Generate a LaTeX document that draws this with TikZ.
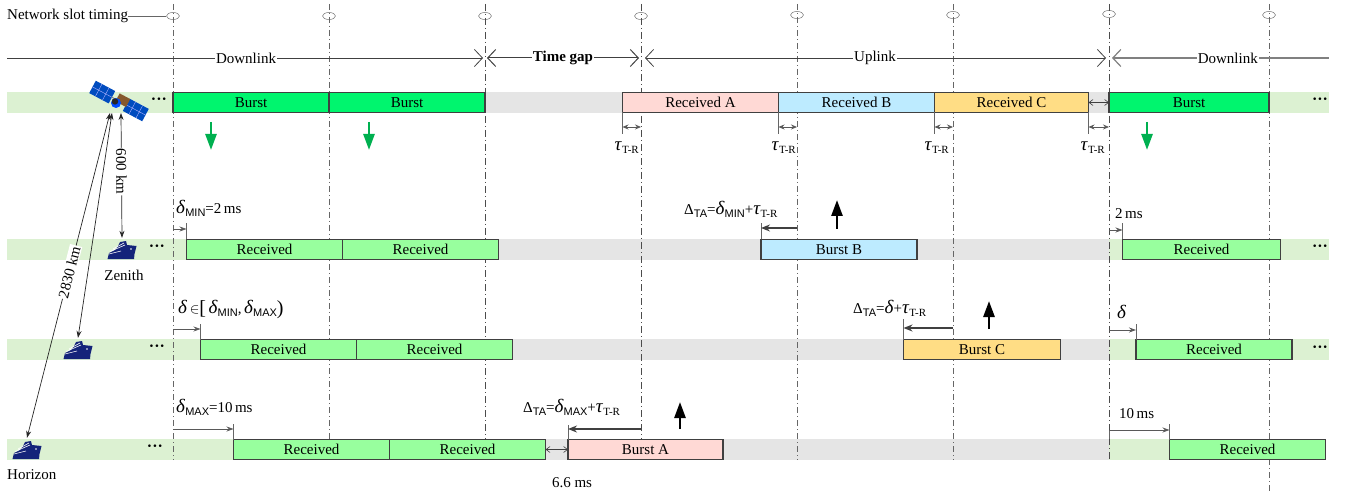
\documentclass[tikz,border=0pt]{standalone}
\usepackage{fontspec}
\usepackage{xcolor}
\usepackage{tikz}
\setmainfont{Liberation Serif}
\newfontfamily\subfont{Liberation Sans}
\definecolor{bandgreen}{RGB}{220, 241, 210}
\definecolor{bandgray}{RGB}{229, 229, 229}
\definecolor{burstgreen}{RGB}{0, 245, 110}
\definecolor{recvgreen}{RGB}{152, 255, 158}
\definecolor{pinkA}{RGB}{255, 217, 213}
\definecolor{blueB}{RGB}{189, 235, 255}
\definecolor{yellowC}{RGB}{255, 221, 133}
\definecolor{arrowgreen}{RGB}{0, 176, 80}
\definecolor{shipblue}{RGB}{20, 36, 122}
\usetikzlibrary{arrows.meta, positioning, calc, shapes.geometric}
\newcommand{\dlt}{{\fontsize{19}{19}\selectfont\textit{δ}}}
\newcommand{\tauv}{{\fontsize{19}{19}\selectfont\textit{τ}}}
\newcommand{\subsf}[1]{\raisebox{-3pt}{\fontsize{11}{11}\subfont #1}}
\newcommand{\subtr}{\raisebox{-3pt}{\fontsize{11}{11}\selectfont T-R}}

\begin{document}
\begin{tikzpicture}[
    x=1pt, y=-1pt,
    every node/.style={font=\fontsize{15}{18}\selectfont},
    barbox/.style={rectangle, draw=black!75, line width=1.1pt, minimum width=156pt, minimum height=20pt, inner sep=0pt, outer sep=0pt},
    burst/.style={barbox, fill=burstgreen, line width=1.5pt},
    recv/.style={barbox, fill=recvgreen},
    note/.style={inner sep=0pt, anchor=west},
    dotrun/.style={inner sep=0pt, font=\fontsize{16}{18}\selectfont\bfseries},
    slot/.style={ellipse, draw=black!55, line width=0.5pt, minimum width=13pt, minimum height=7pt, inner sep=0pt},
    slotline/.style={draw=black!60, line width=0.6pt, dash pattern=on 6pt off 3pt on 1pt off 3pt},
    mainline/.style={draw=black!70, line width=1pt, dash pattern=on 7pt off 3pt on 1pt off 3pt},
    spanline/.style={draw=black!75, line width=0.8pt, -{Straight Barb[length=8pt,width=17pt]}},
    spanlabel/.style={fill=white, inner sep=1pt},
    guide/.style={draw=black!60, line width=0.6pt},
    delayline/.style={draw=black!65, line width=0.8pt, -{Stealth[length=7pt,width=5pt]}},
    advanceline/.style={draw=black!75, line width=1.5pt, -{Stealth[length=9pt,width=7pt]}},
    tauspan/.style={draw=black!65, line width=0.8pt, {Stealth[length=6pt,width=5pt]}-{Stealth[length=6pt,width=5pt]}},
    gapspan/.style={draw=black!75, line width=0.6pt, {Straight Barb[length=4pt,width=6pt]}-{Straight Barb[length=4pt,width=6pt]}},
    rangeline/.style={draw=black!85, line width=0.7pt, {Stealth[length=7pt,width=5pt]}-{Stealth[length=7pt,width=5pt]}},
    greenarrow/.style={draw=arrowgreen, line width=2.6pt, -{Stealth[length=16pt,width=11pt,inset=0pt]}},
    blackarrow/.style={draw=black, line width=2.6pt, -{Stealth[length=16pt,width=11pt,inset=0pt]}},
    shipspot/.style={minimum width=29pt, minimum height=24pt, inner sep=0pt},
    shipicon/.pic={
        \fill[shipblue] (-14.5,9) -- (-13,3) -- (-7,0) -- (-4,-4) -- (-2,-8) -- (4,-9) -- (5,-5) -- (14.5,-4) -- (12.5,4) -- (12,9) -- cycle;
        \draw[white, line width=0.6pt] (-12,1.5) -- (3,-5) (-9,-1) -- (2,-7) (-13,4) -- (-1,1);
        \fill[white] (9,-1) circle (0.8);
    },
    saticon/.pic={
        \begin{scope}[rotate=-28]
            \fill[blue!60!cyan!75!black] (-30,-7) rectangle (-8,7);
            \fill[blue!60!cyan!75!black] (8,-7) rectangle (30,7);
            \draw[white!70!blue, line width=0.4pt] (-23,-7) -- (-23,7) (-15,-7) -- (-15,7) (15,-7) -- (15,7) (23,-7) -- (23,7) (-30,0) -- (-8,0) (8,0) -- (30,0);
            \draw[black!50, line width=1pt] (-8,0) -- (8,0);
        \end{scope}
        \fill[brown!70!black, rotate=-28] (-3,-7) rectangle (9,2);
        \fill[blue!70!cyan] (-3,2) circle (5);
        \fill[black!85] (-4,0.5) circle (3.2);
    }
]
    \useasboundingbox (0,0) rectangle (1348,494);
    % bands behind the timelines
    \fill[bandgreen] (7,92) rectangle (173,113);
    \fill[bandgray] (485,92) rectangle (1109,113);
    \fill[bandgreen] (1269,92) rectangle (1329,113);
    \fill[bandgreen] (7,239) rectangle (186,260);
    \fill[bandgray] (499,239) rectangle (1109,260);
    \fill[bandgreen] (1109,239) rectangle (1329,260);
    \fill[bandgreen] (7,339) rectangle (200,360);
    \fill[bandgray] (513,339) rectangle (1109,360);
    \fill[bandgreen] (1109,339) rectangle (1329,360);
    \fill[bandgreen] (7,439) rectangle (233,460);
    \fill[bandgray] (546,439) rectangle (1109,460);
    \fill[bandgreen] (1109,439) rectangle (1326,460);

    % slot timing
    \node[note] (timing) at (7,16) {Network slot timing};
    \node[slot] (s1) at (173,16) {};
    \node[slot] (s2) at (329,16) {};
    \node[slot] (s3) at (485,16) {};
    \node[slot] (s4) at (641,16) {};
    \node[slot] (s5) at (797,15) {};
    \node[slot] (s6) at (953,15) {};
    \node[slot] (s7) at (1109,14) {};
    \node[slot] (s8) at (1269,15) {};
    \draw[guide] (timing) -- (s1);
    \coordinate (top) at (0,4);
    \coordinate (bot) at (0,460);
    \coordinate (low) at (0,494);
    \draw[slotline] (s1 |- top) -- (s1 |- bot);
    \draw[slotline] (s2 |- top) -- (s2 |- bot);
    \draw[mainline] (s3 |- top) -- (s3 |- bot);
    \draw[mainline] (s4 |- top) -- (s4 |- bot);
    \draw[slotline] (s5 |- top) -- (s5 |- bot);
    \draw[slotline] (s6 |- top) -- (s6 |- bot);
    \draw[mainline] (s7 |- top) -- (s7 |- bot);
    \draw[slotline] (s8 |- top) -- (s8 |- low);

    % link phases
    \coordinate (lnk) at (7,58);
    \coordinate (lnkend) at (1329,58);
    \draw[spanline, shorten >=2pt] (lnk) -- node[spanlabel] {Downlink} (s3 |- lnk);
    \draw[spanline, line width=1pt, {Straight Barb[length=8pt,width=17pt]}-{Straight Barb[length=8pt,width=17pt]}, shorten >=2pt, shorten <=2pt] (s3 |- lnk) -- node[spanlabel] {\textbf{Time gap}} (s4 |- lnk);
    \draw[spanline, {Straight Barb[length=8pt,width=17pt]}-{Straight Barb[length=8pt,width=17pt]}, shorten >=3pt, shorten <=4pt] (s4 |- lnk) -- node[spanlabel] {Uplink} (s7 |- lnk);
    \draw[spanline, draw=black!50, line width=1.2pt, {Straight Barb[length=8pt,width=17pt]}-, shorten <=3pt] (s7 |- lnk) -- node[spanlabel, pos=0.54] {Downlink} (lnkend);

    % satellite row
    \node[burst, anchor=west] (b1) at (173,102.5) {Burst};
    \node[burst, right=0pt of b1] (b2) {Burst};
    \node[barbox, fill=pinkA, anchor=west] (ra) at (622.5,102.5) {Received A};
    \node[barbox, fill=blueB, right=0pt of ra] (rb) {Received B};
    \node[barbox, fill=yellowC, minimum width=154pt, right=0pt of rb] (rc) {Received C};
    \node[burst, minimum width=160pt, anchor=west] (b3) at (1109,102.5) {Burst};
    \node[dotrun] (d1) at (159,101) {···};
    \node[dotrun] (d2) at (1320,101) {···};
    \draw[gapspan] (rc.east) -- (b3.west);
    \coordinate (g1) at (211,122);
    \coordinate (g2) at (369,122);
    \coordinate (g3) at (1147,122);
    \draw[greenarrow] (g1) -- ++(0,28);
    \draw[greenarrow] (g2) -- ++(0,28);
    \draw[greenarrow] (g3) -- ++(0,28);

    % turnaround marks
    \draw[guide] (ra.south west) -- ++(0,22);
    \draw[guide] (rb.south west) -- ++(0,22);
    \draw[guide] (rc.south west) -- ++(0,22);
    \draw[guide] (rc.south east) -- ++(0,22);
    \draw[tauspan] (ra.south west |- 0,127) -- (s4 |- 0,127);
    \draw[tauspan] (rb.south west |- 0,127) -- (s5 |- 0,127);
    \draw[tauspan] (rc.south west |- 0,127) -- (s6 |- 0,127);
    \draw[tauspan] (rc.south east |- 0,127) -- (s7 |- 0,127);
    \node[inner sep=0pt, anchor=east] (t1) at (639,148) {\tauv\subtr};
    \node[inner sep=0pt, anchor=east] (t2) at (796,148) {\tauv\subtr};
    \node[inner sep=0pt, anchor=east] (t3) at (949,148) {\tauv\subtr};
    \node[inner sep=0pt, anchor=east] (t4) at (1105,148) {\tauv\subtr};

    % zenith row
    \node[recv, anchor=west] (z1) at (186.5,249.5) {Received};
    \node[recv, right=0pt of z1] (z2) {Received};
    \node[barbox, fill=blueB, line width=1.5pt, anchor=west] (bb) at (761,249.5) {Burst B};
    \node[recv, minimum width=158pt, anchor=west] (z3) at (1122.5,249.5) {Received};
    \node[dotrun] (d3) at (157,248) {···};
    \node[dotrun] (d4) at (1320,248) {···};
    \node[note] (zmin) at (176,208) {\dlt\subsf{MIN}=2\,ms};
    \node[note] (ztwo) at (1115,214) {2\,ms};
    \node[note] (zta) at (684,209) {Δ\subsf{TA}=\dlt\subsf{MIN}+\tauv\subtr};
    \draw[guide] (z1.north west) -- ++(0,-16);
    \draw[guide] (z3.north west) -- ++(0,-16);
    \draw[guide] (bb.north west) -- ++(0,-16);
    \draw[delayline] (s1 |- 0,229) -- (z1.west |- 0,229);
    \draw[delayline] (s7 |- 0,230) -- (z3.west |- 0,230);
    \draw[advanceline] (s5 |- 0,228) -- (bb.west |- 0,228);
    \coordinate (upb) at (837,229);
    \draw[blackarrow] (upb) -- ++(0,-29);

    % middle row
    \node[recv, anchor=west] (m1) at (200.5,349.5) {Received};
    \node[recv, right=0pt of m1] (m2) {Received};
    \node[barbox, fill=yellowC, line width=1.5pt, minimum width=157pt, anchor=west] (bc) at (903.5,349.5) {Burst C};
    \node[recv, anchor=west] (m3) at (1136,349.5) {Received};
    \node[dotrun] (d5) at (157,348) {···};
    \node[dotrun] (d6) at (1320,349) {···};
    \node[note] (mrange) at (178,309) {\dlt\,$\in$\raisebox{-1pt}{\fontsize{20}{20}\selectfont[}\,\dlt\subsf{MIN},\,\dlt\subsf{MAX}\raisebox{-1pt}{\fontsize{20}{20}\selectfont)}};
    \node[note] (mdelta) at (1117,312) {\dlt};
    \node[note] (mta) at (853,308) {Δ\subsf{TA}=\dlt+\tauv\subtr};
    \draw[guide] (m1.north west) -- ++(0,-16);
    \draw[guide] (m3.north west) -- ++(0,-16);
    \draw[guide] (bc.north west) -- ++(0,-21);
    \draw[delayline] (s1 |- 0,329) -- (m1.west |- 0,329);
    \draw[delayline] (s7 |- 0,330) -- (m3.west |- 0,330);
    \draw[advanceline] (s6 |- 0,328) -- (bc.west |- 0,328);
    \coordinate (upc) at (989,329);
    \draw[blackarrow] (upc) -- ++(0,-28);

    % horizon row
    \node[recv, anchor=west] (h1) at (233.5,449.5) {Received};
    \node[recv, right=0pt of h1] (h2) {Received};
    \node[barbox, fill=pinkA, line width=1.5pt, minimum width=155pt, anchor=west] (ba) at (568,449.5) {Burst A};
    \node[recv, anchor=west] (h3) at (1169.5,449.5) {Received};
    \node[dotrun] (d7) at (155,448) {···};
    \node[note] (hmax) at (176,407) {\dlt\subsf{MAX}=10\,ms};
    \node[note] (hten) at (1119,414) {10\,ms};
    \node[note] (hta) at (523,407) {Δ\subsf{TA}=\dlt\subsf{MAX}+\tauv\subtr};
    \node (gapms) at (572,483) {6.6 ms};
    \draw[guide] (h1.north west) -- ++(0,-16);
    \draw[guide] (h3.north west) -- ++(0,-16);
    \draw[guide] (ba.north west) -- ++(0,-15);
    \draw[guide] (s7 |- 0,430) -- (s7 |- 0,439);
    \draw[delayline] (s1 |- 0,429) -- (h1.west |- 0,429);
    \draw[delayline] (s7 |- 0,430) -- (h3.west |- 0,430);
    \draw[advanceline] (s4 |- 0,429) -- (ba.west |- 0,429);
    \draw[gapspan] (h2.east) -- (ba.west);
    \coordinate (upa) at (680,429);
    \draw[blackarrow] (upa) -- ++(0,-27);

    % satellite and ships
    \coordinate (sat) at (119,101);
    \pic at (sat) {saticon};
    \node[shipspot] (zenith) at (122,250) {};
    \node[shipspot] (middle) at (78,350) {};
    \node[shipspot] (horizon) at (27,450) {};
    \pic at (zenith) {shipicon};
    \pic at (middle) {shipicon};
    \pic at (horizon) {shipicon};
    \node (zname) at (124,275) {Zenith};
    \node[note] (hname) at (7,475) {Horizon};
    \coordinate (satA) at (110,113);
    \coordinate (satB) at (112,113);
    \coordinate (satC) at (121,113);
    \draw[rangeline] (satA) -- node[pos=0.49, sloped, fill=white, inner sep=1pt] {2830 km} (horizon.north);
    \draw[rangeline] (satB) -- (middle.north);
    \draw[rangeline] (satC) -- node[pos=0.47, sloped, fill=white, inner sep=1pt] {600 km} (zenith.north);
\end{tikzpicture}
\end{document}
